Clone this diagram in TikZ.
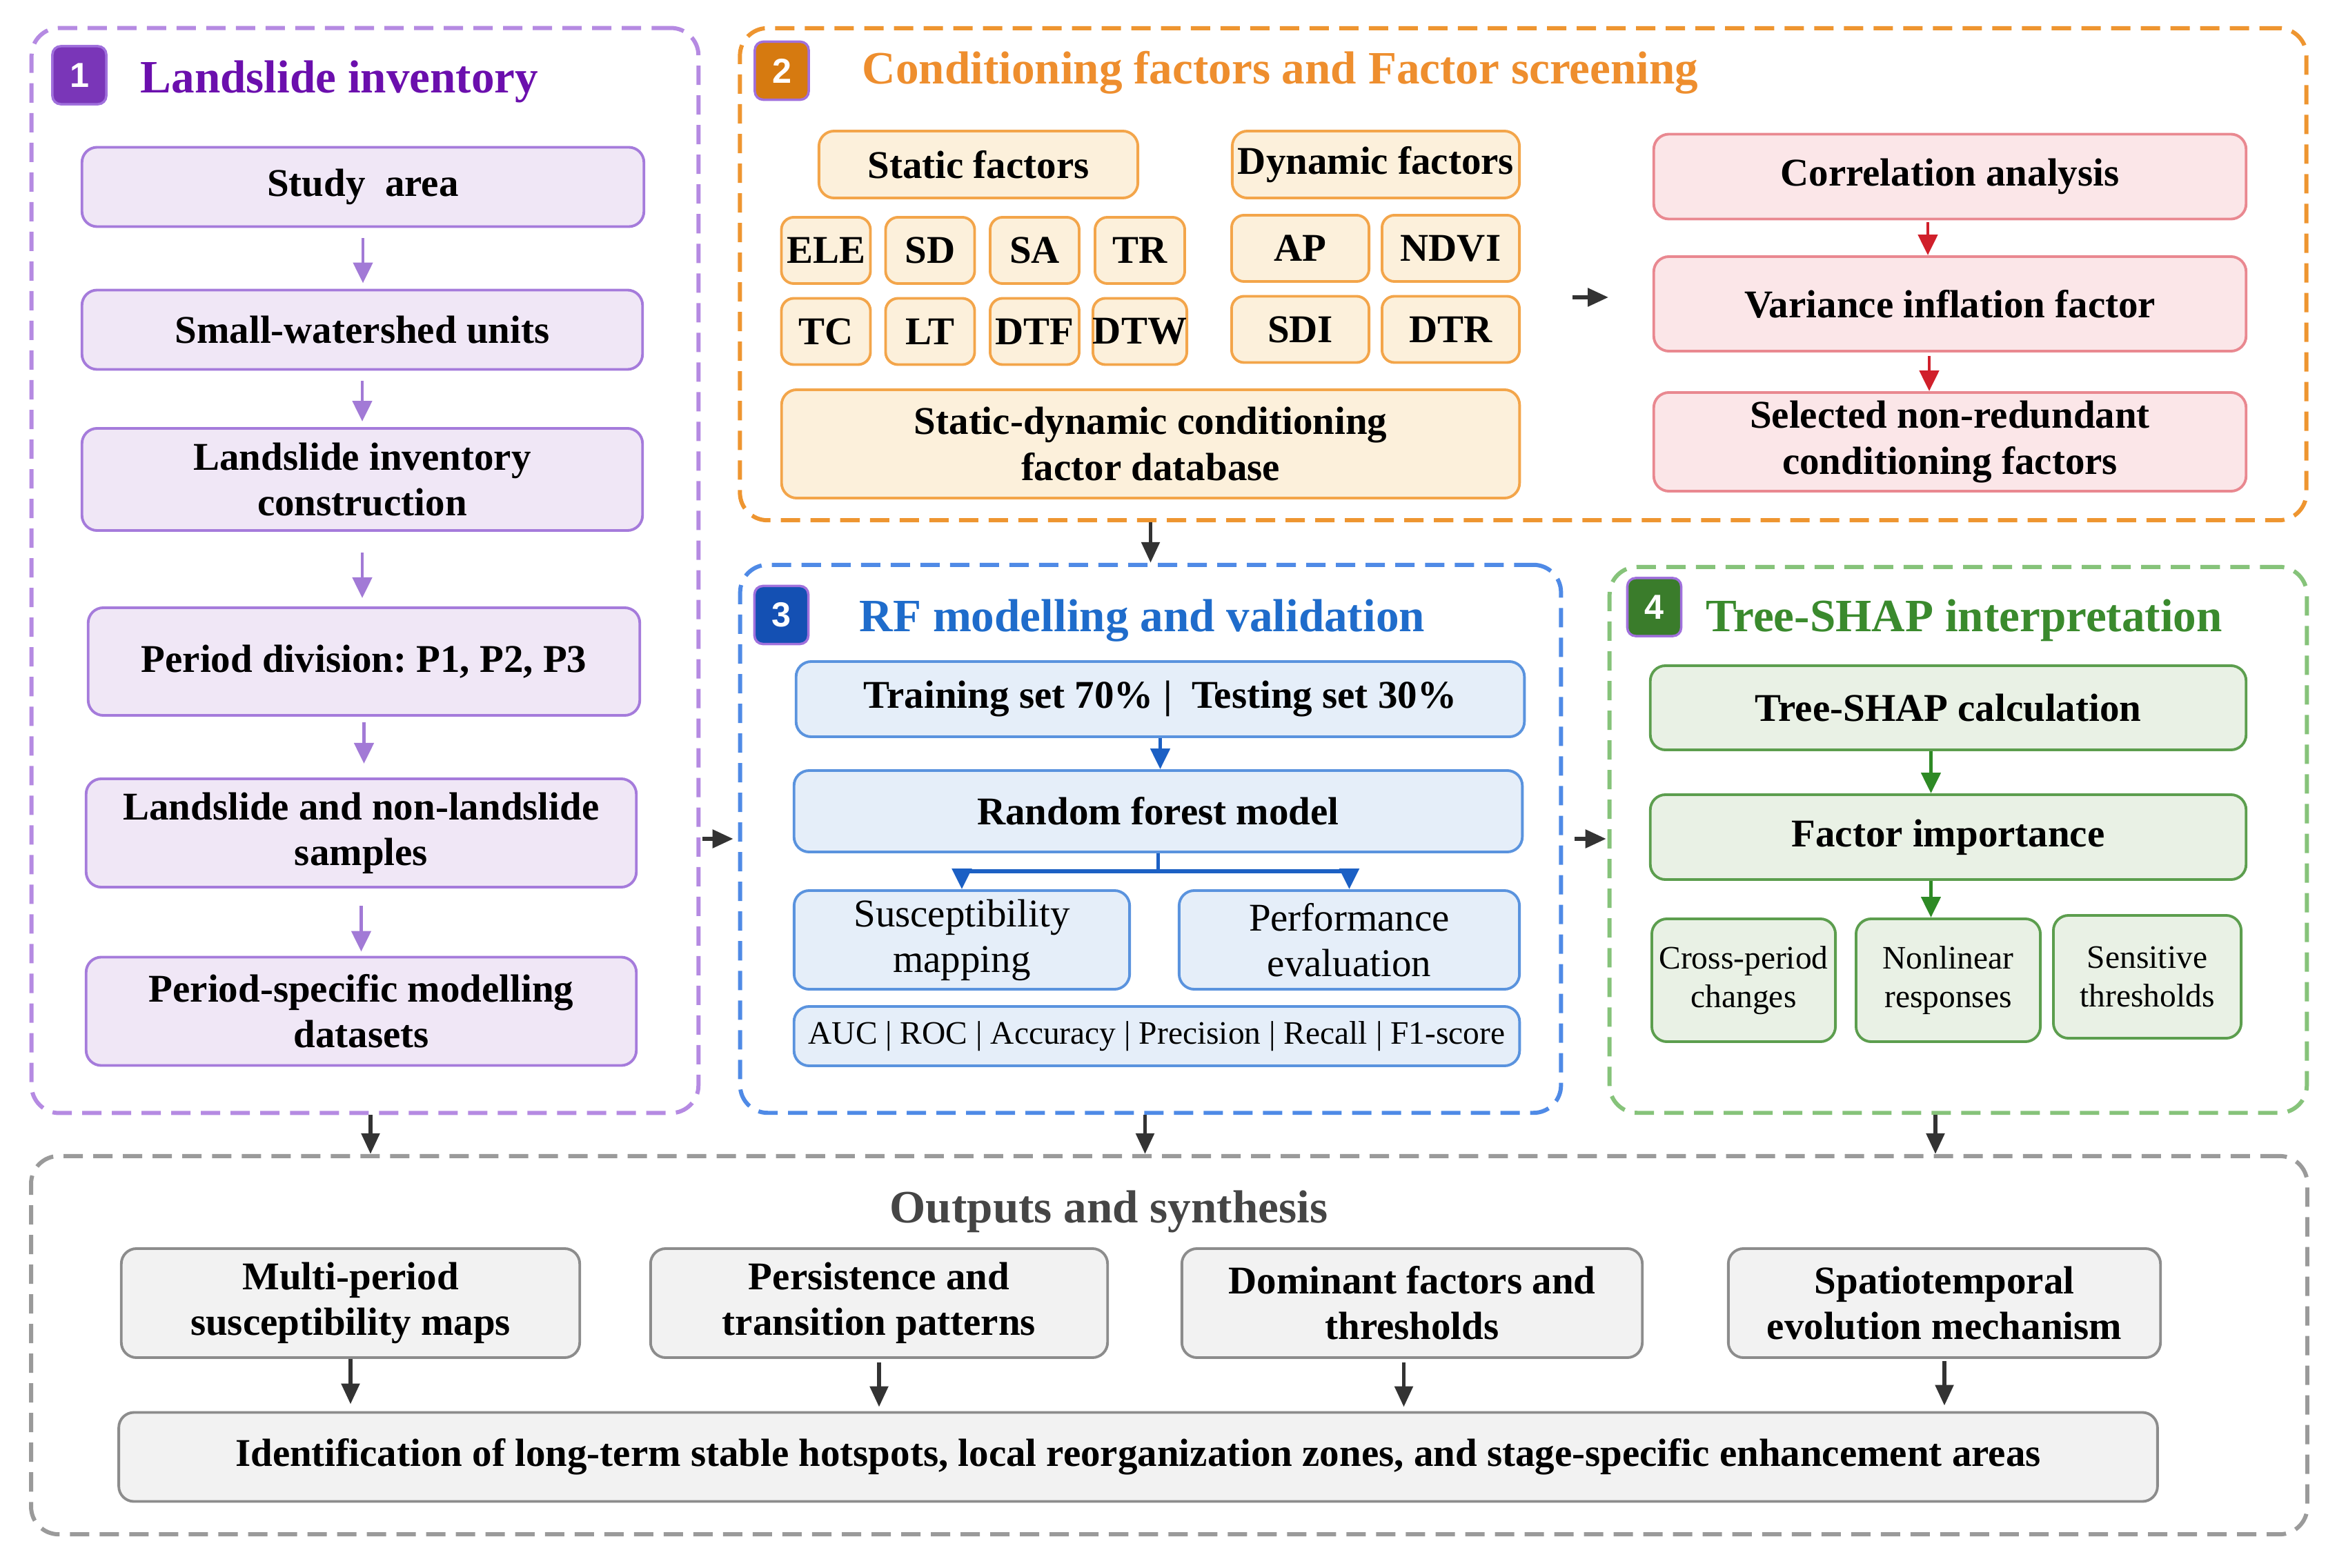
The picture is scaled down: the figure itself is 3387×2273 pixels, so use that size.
\documentclass[tikz,border=0pt]{standalone}
\usepackage{fontspec}
\setmainfont{Liberation Serif}
\newfontfamily\badgefont{Liberation Sans}
\usetikzlibrary{arrows.meta,positioning,calc}
\frenchspacing

\definecolor{pdash}{HTML}{B58AE2}
\definecolor{pline}{HTML}{A57BDB}
\definecolor{pfill}{HTML}{F0E7F6}
\definecolor{ptext}{HTML}{6B0FAD}
\definecolor{parrow}{HTML}{A27AD6}
\definecolor{pbadge}{HTML}{7A36B8}
\definecolor{odash}{HTML}{EE9530}
\definecolor{oline}{HTML}{F3A54A}
\definecolor{ofill}{HTML}{FCF0DB}
\definecolor{otext}{HTML}{EE8E2E}
\definecolor{obadge}{HTML}{D67A10}
\definecolor{rline}{HTML}{E98890}
\definecolor{rfill}{HTML}{FBE6E8}
\definecolor{rarrow}{HTML}{D0202B}
\definecolor{bdash}{HTML}{4F8AE6}
\definecolor{bline}{HTML}{5A93DE}
\definecolor{bfill}{HTML}{E5EEF9}
\definecolor{btext}{HTML}{1F6CCB}
\definecolor{bbadge}{HTML}{1450B3}
\definecolor{barrow}{HTML}{1C60C4}
\definecolor{gdash}{HTML}{86C37A}
\definecolor{gline}{HTML}{5C9E4E}
\definecolor{gfill}{HTML}{E9F1E5}
\definecolor{gtext}{HTML}{3A8A2D}
\definecolor{gbadge}{HTML}{3A7C2B}
\definecolor{garrow}{HTML}{2E8A25}
\definecolor{kdash}{HTML}{9A9A9A}
\definecolor{kline}{HTML}{8C8C8C}
\definecolor{kfill}{HTML}{F2F2F2}
\definecolor{ktext}{HTML}{454545}
\definecolor{karrow}{HTML}{333333}
\definecolor{badgeline}{HTML}{A070DC}

\tikzset{
  panel/.style={draw=#1,line width=1.7pt,dash pattern=on 0.28cm off 0.15cm,rounded corners=0.4cm,inner sep=0},
  basebox/.style={line width=1.1pt,rounded corners=0.22cm,align=center,inner sep=2pt,
    font=\fontsize{16.2}{18.8}\selectfont\bfseries},
  purplebox/.style={basebox,draw=pline,fill=pfill},
  orangebox/.style={basebox,draw=oline,fill=ofill},
  factorbox/.style={orangebox,rounded corners=0.18cm,inner xsep=0pt,minimum height=0.96cm},
  redbox/.style={basebox,draw=rline,fill=rfill},
  bluebox/.style={basebox,draw=bline,fill=bfill},
  greenbox/.style={basebox,draw=gline,fill=gfill},
  graybox/.style={basebox,draw=kline,fill=kfill},
  plainfont/.style={font=\fontsize{16.2}{18.8}\selectfont},
  smallfont/.style={font=\fontsize{13.5}{16}\selectfont},
  badge/.style={fill=#1,draw=badgeline,line width=1pt,rounded corners=0.12cm,
    minimum width=0.78cm,minimum height=0.84cm,inner sep=0,text=white,
    font=\badgefont\fontsize{14.3}{14.3}\selectfont\bfseries},
  ptitle/.style={anchor=base west,text=#1,inner sep=0,font=\fontsize{19.1}{22}\selectfont\bfseries},
  flow/.style={draw=#1,line width=1.4pt,-{Triangle[length=0.3cm,width=0.28cm]}},
  bigflow/.style={draw=karrow,line width=1.6pt,-{Triangle[length=0.3cm,width=0.26cm]}},
}

\begin{document}
\begin{tikzpicture}[x=0.01cm,y=-0.01cm]
\useasboundingbox (0,0) rectangle (3387,2273);

\node[panel=pdash,minimum width=9.66cm,minimum height=15.72cm] (g1) at (529,827) {};
\node[panel=odash,minimum width=22.69cm,minimum height=7.13cm] (g2) at (2207.5,397.5) {};
\node[panel=bdash,minimum width=11.89cm,minimum height=7.94cm] (g3) at (1667.5,1216) {};
\node[panel=gdash,minimum width=10.10cm,minimum height=7.91cm] (g4) at (2838,1217.5) {};
\node[panel=kdash,minimum width=32.97cm,minimum height=5.48cm] (g5) at (1694.5,1950) {};

\node[badge=pbadge] (b1) at (115,109) {1};
\node[badge=obadge] (b2) at (1133,102.5) {2};
\node[badge=bbadge] (b3) at (1132.5,891.5) {3};
\node[badge=gbadge] (b4) at (2397.5,880) {4};
\node[ptitle=ptext] (t1) at (203,135) {Landslide inventory};
\node[ptitle=otext] (t2) at (1249,122) {Conditioning factors and Factor screening};
\node[ptitle=btext] (t3) at (1245,915) {RF modelling and validation};
\node[ptitle=gtext] (t4) at (2472,915) {Tree-SHAP interpretation};
\node[anchor=base,text=ktext,inner sep=0,font=\fontsize{19.1}{22}\selectfont\bfseries] (t5) at (1607,1772) {Outputs and synthesis};

\node[purplebox,minimum width=8.14cm,minimum height=1.15cm] (study) at (526,271) {Study\ \ area};
\node[purplebox,minimum width=8.12cm,minimum height=1.15cm] (units) at (525,478) {Small-watershed units};
\node[purplebox,minimum width=8.12cm,minimum height=1.48cm] (invent) at (525,695) {Landslide inventory\\construction};
\node[purplebox,minimum width=7.99cm,minimum height=1.56cm] (period) at (527.5,959) {Period division: P1, P2, P3};
\node[purplebox,minimum width=7.97cm,minimum height=1.57cm] (samples) at (523.5,1207.5) {Landslide and non-landslide\\samples};
\node[purplebox,minimum width=7.97cm,minimum height=1.57cm] (dsets) at (523.5,1466) {Period-specific modelling\\datasets};

\node[orangebox,minimum width=4.62cm,minimum height=0.97cm] (static) at (1418,238.5) {Static factors};
\node[orangebox,minimum width=4.16cm,minimum height=0.97cm] (dynamic) at (1994,238.5) {Dynamic factors};
\node[factorbox,minimum width=1.29cm] (ele) at (1197,363) {ELE};
\node[factorbox,minimum width=1.29cm] (sd) at (1348,363) {SD};
\node[factorbox,minimum width=1.29cm] (sa) at (1499.5,363) {SA};
\node[factorbox,minimum width=1.30cm] (tr) at (1652,363) {TR};
\node[factorbox,minimum width=1.29cm] (tc) at (1197,480.5) {TC};
\node[factorbox,minimum width=1.29cm] (lt) at (1348,480.5) {LT};
\node[factorbox,minimum width=1.29cm] (dtf) at (1499.5,480.5) {DTF};
\node[factorbox,minimum width=1.30cm] (dtw) at (1652,480.5) {DTW};
\node[factorbox,minimum width=1.99cm] (ap) at (1884.5,360) {AP};
\node[factorbox,minimum width=1.99cm] (ndvi) at (2102.5,360) {NDVI};
\node[factorbox,minimum width=1.99cm] (sdi) at (1884.5,477.5) {SDI};
\node[factorbox,minimum width=1.99cm] (dtr) at (2102.5,477.5) {DTR};
\node[orangebox,minimum width=10.69cm,minimum height=1.57cm] (sdb) at (1667.5,643.5) {Static-dynamic conditioning\\factor database};

\node[redbox,minimum width=8.58cm,minimum height=1.23cm] (corr) at (2826,256) {Correlation analysis};
\node[redbox,minimum width=8.58cm,minimum height=1.37cm] (vif) at (2826,440.5) {Variance inflation factor};
\node[redbox,minimum width=8.58cm,minimum height=1.43cm] (sel) at (2826,640.5) {Selected non-redundant\\conditioning factors};
\coordinate (fa) at (2279,431);
\coordinate (fb) at (2331,431);

\node[bluebox,minimum width=10.55cm,minimum height=1.09cm] (train) at (1681.5,1013.5) {Training set 70\% |\ \ Testing set 30\%};
\node[bluebox,minimum width=10.55cm,minimum height=1.18cm] (rf) at (1678.5,1176) {Random forest model};
\node[bluebox,plainfont,minimum width=4.86cm,minimum height=1.43cm] (susc) at (1394,1362.5) {Susceptibility\\mapping};
\node[bluebox,plainfont,minimum width=4.93cm,minimum height=1.43cm] (perf) at (1955.5,1362.5) {Performance\\evaluation};
\node[bluebox,smallfont,minimum width=10.51cm,minimum height=0.86cm] (auc) at (1676.5,1502) {AUC | ROC | Accuracy | Precision | Recall | F1-score};

\node[greenbox,minimum width=8.63cm,minimum height=1.22cm] (shap) at (2823.5,1026) {Tree-SHAP calculation};
\node[greenbox,minimum width=8.63cm,minimum height=1.23cm] (imp) at (2823.5,1213.5) {Factor importance};
\node[greenbox,smallfont,minimum width=2.66cm,minimum height=1.78cm] (cross) at (2527,1421) {Cross-period\\changes};
\node[greenbox,smallfont,minimum width=2.67cm,minimum height=1.78cm] (nonlin) at (2823.5,1421) {Nonlinear\\responses};
\node[greenbox,smallfont,minimum width=2.72cm,minimum height=1.78cm] (sens) at (3112,1416) {Sensitive\\thresholds};

\node[graybox,minimum width=6.64cm,minimum height=1.58cm] (multi) at (508,1889) {Multi-period\\susceptibility maps};
\node[graybox,minimum width=6.62cm,minimum height=1.58cm] (pers) at (1274,1889) {Persistence and\\transition patterns};
\node[graybox,minimum width=6.67cm,minimum height=1.58cm] (dom) at (2046.5,1889) {Dominant factors and\\thresholds};
\node[graybox,minimum width=6.26cm,minimum height=1.58cm] (spat) at (2818,1889) {Spatiotemporal\\evolution mechanism};
\node[graybox,minimum width=29.53cm,minimum height=1.29cm] (ident) at (1649.5,2112) {Identification of long-term stable hotspots, local reorganization zones, and stage-specific enhancement areas};

\draw[flow=parrow,shorten <=0.15cm,shorten >=0.08cm] (study.south) -- (study.south |- units.north);
\draw[flow=parrow,shorten <=0.15cm,shorten >=0.08cm] (units.south) -- (units.south |- invent.north);
\draw[flow=parrow,shorten <=0.3cm,shorten >=0.12cm] (invent.south) -- (invent.south |- period.north);
\draw[flow=parrow,shorten <=0.08cm,shorten >=0.2cm] (period.south) -- (period.south |- samples.north);
\draw[flow=parrow,shorten <=0.25cm,shorten >=0.06cm] (samples.south) -- (samples.south |- dsets.north);

\draw[flow=rarrow,shorten <=0.03cm] ([xshift=-0.32cm]corr.south) -- ([xshift=-0.32cm]vif.north);
\draw[flow=rarrow,shorten <=0.05cm] ([xshift=-0.3cm]vif.south) -- ([xshift=-0.3cm]sel.north);
\draw[bigflow] (fa) -- (fb);

\draw[flow=barrow] (train.south) -- (train.south |- rf.north);
\draw[flow=barrow,line width=1.6pt] (rf.south) -- ++(0,26) -| (susc.north);
\draw[flow=barrow,line width=1.6pt] (rf.south) -- ++(0,26) -| (perf.north);

\draw[flow=garrow] ([xshift=-0.25cm]shap.south) -- ([xshift=-0.25cm]imp.north);
\draw[flow=garrow] ([xshift=-0.25cm]imp.south) -- ([xshift=-0.25cm]imp.south |- nonlin.north);

\draw[bigflow] (g2.south -| g3.north) -- (g3.north);
\draw[bigflow,shorten <=0.03cm,shorten >=0.07cm] (g1.east |- g3.west) -- (g3.west);
\draw[bigflow,shorten <=0.17cm,shorten >=0.02cm] (g3.east) -- (g3.east -| g4.west);
\draw[bigflow] ([xshift=0.08cm]g1.south) -- ([xshift=0.08cm]g1.south |- g5.north);
\draw[bigflow] ([xshift=-0.08cm]g3.south) -- ([xshift=-0.08cm]g3.south |- g5.north);
\draw[bigflow] ([xshift=-0.33cm]g4.south) -- ([xshift=-0.33cm]g4.south |- g5.north);

\draw[bigflow,shorten >=0.1cm] (multi.south) -- (multi.south |- ident.north);
\draw[bigflow,shorten <=0.05cm,shorten >=0.06cm] (pers.south) -- (pers.south |- ident.north);
\draw[bigflow,shorten <=0.05cm,shorten >=0.06cm] ([xshift=-0.12cm]dom.south) -- ([xshift=-0.12cm]dom.south |- ident.north);
\draw[bigflow,shorten <=0.03cm,shorten >=0.08cm] (spat.south) -- (spat.south |- ident.north);

\end{tikzpicture}
\end{document}
